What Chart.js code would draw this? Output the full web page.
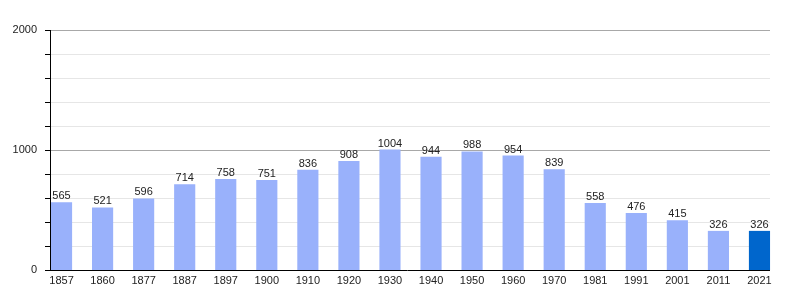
<!DOCTYPE html>
<html>
<head>
<meta charset="utf-8">
<script src="https://cdn.jsdelivr.net/npm/chart.js@4"></script>
<style>
html,body{margin:0;padding:0;background:#fff;}
#wrap{width:800px;height:300px;position:relative;}
</style>
</head>
<body>
<div id="wrap"><canvas id="c" width="800" height="300"></canvas></div>
<script>
const years = ['1857','1860','1877','1887','1897','1900','1910','1920','1930','1940','1950','1960','1970','1981','1991','2001','2011','2021'];
const population = [565,521,596,714,758,751,836,908,1004,944,988,954,839,558,476,415,326,326];
const yTickLabels = [0,1000,2000];

const barColors = years.map((y,i)=> i===years.length-1 ? '#0066cc' : '#99b1fb');

const FONT = "'Liberation Sans', Arial, sans-serif";

const decor = {
  id:'decor',
  beforeDatasetsDraw(chart){
    const ctx = chart.ctx, y = chart.scales.y;
    const x0 = 50, x1 = 770;
    ctx.save();
    for(let v=200; v<=2000; v+=200){
      const py = Math.round(y.getPixelForValue(v))+0.5;
      ctx.strokeStyle = (v%1000===0) ? '#a8a8a8' : '#e6e6e6';
      ctx.lineWidth = 1;
      ctx.beginPath(); ctx.moveTo(x0,py); ctx.lineTo(x1,py); ctx.stroke();
    }
    ctx.restore();
  },
  afterDatasetsDraw(chart){
    const ctx = chart.ctx, y = chart.scales.y;
    ctx.save();
    ctx.strokeStyle = '#000'; ctx.lineWidth = 1;
    const top = Math.round(y.getPixelForValue(2000));
    const bot = Math.round(y.getPixelForValue(0));
    ctx.beginPath(); ctx.moveTo(50.5, top); ctx.lineTo(50.5, bot+1); ctx.stroke();
    ctx.beginPath(); ctx.moveTo(45, bot+0.5); ctx.lineTo(770, bot+0.5); ctx.stroke();
    for(let v=200; v<=2000; v+=200){
      const py = Math.round(y.getPixelForValue(v))+0.5;
      ctx.beginPath(); ctx.moveTo(45,py); ctx.lineTo(50,py); ctx.stroke();
    }
    ctx.font = '11px ' + FONT;
    ctx.fillStyle = '#222';
    ctx.textAlign = 'center';
    ctx.textBaseline = 'alphabetic';
    const meta = chart.getDatasetMeta(0);
    meta.data.forEach((bar,i)=>{
      ctx.fillText(String(population[i]), bar.x, bar.y - 3);
    });
    ctx.restore();
  }
};

new Chart(document.getElementById('c'), {
  type:'bar',
  data:{
    labels: years,
    datasets:[{
      data: population,
      backgroundColor: barColors,
      borderWidth: 0,
      barPercentage: 1,
      categoryPercentage: 0.515
    }]
  },
  options:{
    responsive:false,
    animation:false,
    events:[],
    layout:{padding:{top:30,right:20,left:0,bottom:0}},
    plugins:{legend:{display:false},tooltip:{enabled:false}},
    scales:{
      x:{
        type:'category',
        offset:true,
        grid:{display:false, drawTicks:false},
        border:{display:false},
        ticks:{font:{family:FONT,size:11},color:'#222',padding:4,maxRotation:0,autoSkip:false},
        afterFit(s){ s.height = 30; }
      },
      y:{
        min:0,max:2000,
        grid:{display:false, drawTicks:false},
        border:{display:false},
        afterBuildTicks(s){ s.ticks = yTickLabels.map(v=>({value:v})); },
        ticks:{font:{family:FONT,size:11},color:'#222',padding:4,callback:(v)=>String(v)},
        afterFit(s){ s.width = 41; }
      }
    }
  },
  plugins:[decor]
});
</script>
</body>
</html>
